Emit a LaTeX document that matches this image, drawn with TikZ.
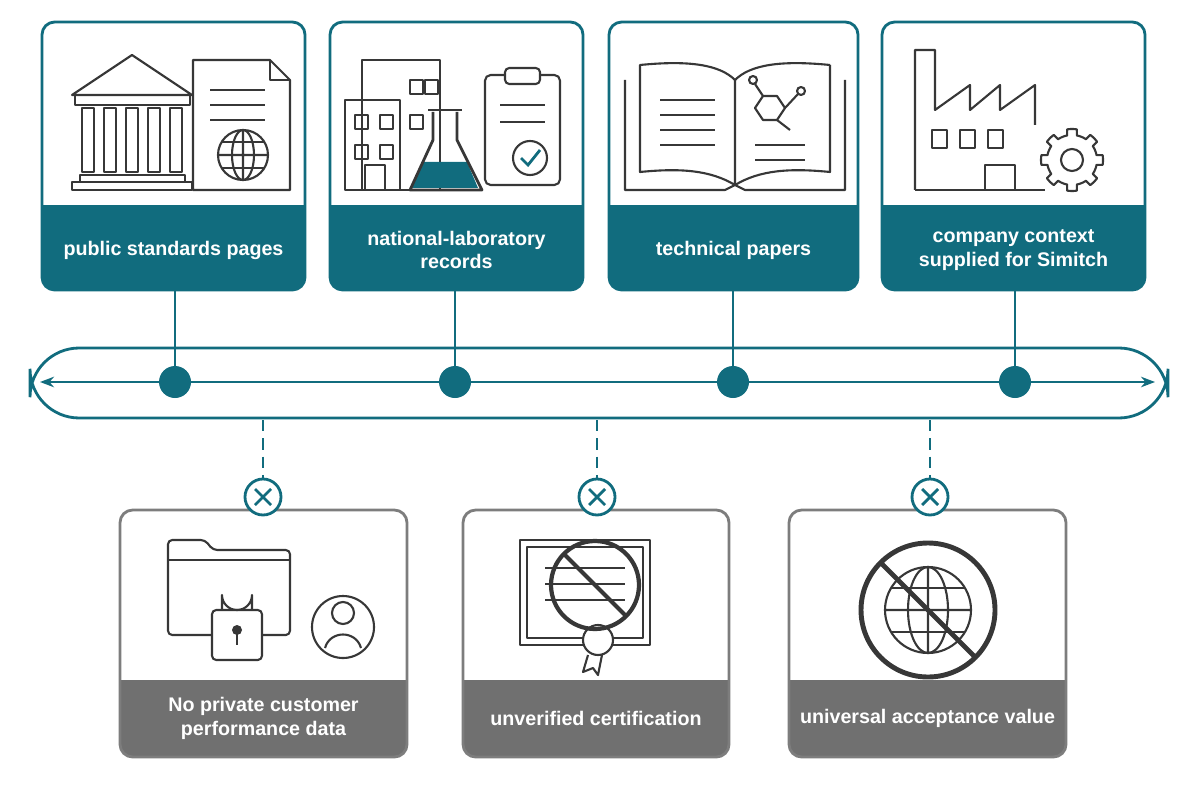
\documentclass[tikz,border=0pt]{standalone}
\usepackage{fontspec}
\setmainfont{Liberation Sans}
\usetikzlibrary{arrows.meta, positioning, calc}
\definecolor{tealc}{RGB}{17,108,126}
\definecolor{grayband}{RGB}{112,112,112}
\definecolor{grayline}{RGB}{125,125,125}
\definecolor{inkc}{RGB}{55,55,55}
\begin{document}
\begin{tikzpicture}[
    x=0.025cm, y=-0.025cm,
    every node/.style={font=\fontsize{14}{17}\selectfont\bfseries}, % label text
    topcard/.style={draw=tealc, line width=2pt, rounded corners=9},
    botcard/.style={draw=grayline, line width=2pt, rounded corners=9},
    bandtxt/.style={text=white, align=center},
    icon/.style={draw=inkc, line width=1.5pt, line join=round},
    stem/.style={tealc, line width=2pt},
    dot/.style={circle, fill=tealc, minimum size=0.8cm, inner sep=0pt},
    xmark/.style={circle, draw=tealc, fill=white, line width=2pt, minimum size=0.9cm, inner sep=0pt},
    rail/.style={draw=tealc, line width=2pt}
]
    \useasboundingbox (0,0) rectangle (1200,800);

    % 1. top cards
    \foreach \xa/\xb/\n/\t in {42/305/1/{public standards pages},
        330/583/2/{national-laboratory\\records},
        609/858/3/{technical papers},
        882/1145/4/{company context\\supplied for Simitch}} {
        \begin{scope}
            \clip[rounded corners=9] (\xa,22) rectangle (\xb,290);
            \fill[tealc] (\xa,205) rectangle (\xb,290);
        \end{scope}
        \draw[topcard] (\xa,22) rectangle (\xb,290);
        \node[bandtxt] (t\n) at ({(\xa+\xb)/2},250) {\t};
    }

    % 2. rail with dots
    \draw[rail, rounded corners=35] (30,348) rectangle (1168,418);
    \coordinate (la) at (40,382);
    \coordinate (ra) at (1155,382);
    \draw[tealc, line width=1.5pt, {Stealth[length=10pt]}-{Stealth[length=10pt]}] (la) -- (ra);
    \foreach \x/\n in {175/1, 455/2, 733/3, 1015/4} {
        \coordinate (b\n) at (\x,290);
        \node[dot] (d\n) at (\x,382) {};
        \draw[stem] (b\n) -- (d\n);
    }

    % 3. bottom cards
    \foreach \xa/\xb/\n/\t in {120/407/1/{No private customer\\performance data},
        463/729/2/{unverified certification},
        789/1066/3/{universal acceptance value}} {
        \begin{scope}
            \clip[rounded corners=9] (\xa,510) rectangle (\xb,757);
            \fill[grayband] (\xa,680) rectangle (\xb,757);
        \end{scope}
        \draw[botcard] (\xa,510) rectangle (\xb,757);
        \node[bandtxt] (g\n) at ({(\xa+\xb)/2},718) {\t};
    }
    \foreach \x/\n in {263/1, 597/2, 930/3} {
        \coordinate (s\n) at (\x,420);
        \node[xmark] (x\n) at (\x,497) {};
        \draw[stem, dashed, dash pattern=on 8pt off 5pt] (s\n) -- (x\n);
        \draw[tealc, line width=2pt] (\x-8,489) -- (\x+8,505) (\x-8,505) -- (\x+8,489);
    }

    % 4. icons, top
    % temple + document + globe
    \draw[icon] (72,95) -- (132,55) -- (192,95) -- cycle;
    \draw[icon] (75,95) rectangle (190,105);
    \foreach \c in {88,110,132,154,176}
        \draw[icon] (\c-6,108) rectangle (\c+6,172);
    \draw[icon] (80,175) rectangle (185,182) (72,182) rectangle (192,190);
    \draw[icon, fill=white] (193,60) -- (270,60) -- (290,80) -- (290,190) -- (193,190) -- cycle;
    \draw[icon] (270,60) -- (270,80) -- (290,80);
    \foreach \y in {90,105,120} \draw[icon] (210,\y) -- (265,\y);
    \draw[icon] (243,155) circle (25) (218,155) -- (268,155) (243,130) -- (243,180);
    \draw[icon] (243,155) ellipse (11 and 25);
    \draw[icon] (222,142) -- (264,142) (222,168) -- (264,168);
    % building + flask + clipboard
    \draw[icon] (362,60) -- (440,60) -- (440,190) -- (362,190) -- cycle;
    \draw[icon] (345,100) rectangle (400,190);
    \foreach \wx/\wy in {355/115,380/115,355/145,380/145,410/80,425/80,410/115}
        \draw[icon] (\wx,\wy) rectangle (\wx+13,\wy+14);
    \draw[icon] (365,165) rectangle (385,190);
    \fill[tealc] (423,162) -- (467,162) -- (478,188) -- (412,188) -- cycle;
    \draw[icon, line width=2pt] (433,112) -- (433,140) -- (410,190) -- (482,190) -- (457,140) -- (457,112);
    \draw[icon] (428,110) -- (462,110);
    \draw[icon, rounded corners=4] (485,75) rectangle (560,185);
    \draw[icon, fill=white, rounded corners=3] (505,68) rectangle (540,84);
    \foreach \y in {105,122} \draw[icon] (500,\y) -- (545,\y);
    \draw[icon] (530,158) circle (17);
    \draw[tealc, line width=2pt] (521,158) -- (528,165) -- (540,150);
    % open book + molecule
    \draw[icon] (640,65) .. controls (690,60) and (720,65) .. (735,80) -- (735,185)
        .. controls (710,170) and (680,168) .. (640,172) -- cycle;
    \draw[icon] (830,65) .. controls (780,60) and (750,65) .. (735,80)
        (735,185) .. controls (760,170) and (790,168) .. (830,172) -- (830,65);
    \draw[icon] (625,80) -- (625,190) -- (725,190) -- (735,185) -- (745,190) -- (845,190) -- (845,80);
    \foreach \y in {100,115,130,145} \draw[icon] (660,\y) -- (715,\y);
    \draw[icon] (755,108) -- (763,96) -- (777,96) -- (785,108) -- (777,120) -- (763,120) -- cycle;
    \draw[icon] (785,108) -- (798,94) (763,96) -- (755,84) (777,120) -- (790,130);
    \draw[icon, fill=white] (801,91) circle (4) (753,80) circle (4);
    \foreach \y in {145,160} \draw[icon] (755,\y) -- (805,\y);
    % factory + gear
    \draw[icon] (915,190) -- (915,50) -- (935,50) -- (935,110) -- (970,85) -- (970,110)
        -- (1000,85) -- (1000,110) -- (1035,85) -- (1035,125);
    \draw[icon] (915,190) -- (1045,190);
    \foreach \wx in {932,960,988} \draw[icon] (\wx,130) rectangle (\wx+15,148);
    \draw[icon] (985,165) rectangle (1015,190);
    \draw[icon, fill=white] plot[domain=0:360, samples=161, smooth cycle]
        ({1072+(25+6*(cos(8*\x)>0))*cos(\x)}, {160+(25+6*(cos(8*\x)>0))*sin(\x)});
    \draw[icon] (1072,160) circle (11);

    % 5. icons, bottom
    \draw[icon, rounded corners=3] (168,635) -- (168,540) -- (205,540) -- (213,550) -- (290,550) -- (290,635) -- cycle;
    \draw[icon] (168,560) -- (290,560);
    \draw[icon, fill=white, rounded corners=3] (212,610) rectangle (262,660);
    \draw[icon] (222,610) -- (222,595) arc (180:0:15) -- (252,610);
    \fill[inkc] (237,630) circle (5);
    \draw[inkc, line width=2pt] (237,630) -- (237,645);
    \draw[icon] (343,627) circle (31) (343,613) circle (11);
    \draw[icon] (325,648) .. controls (330,630) and (356,630) .. (361,648);
    \draw[icon] (520,540) rectangle (650,645);
    \draw[icon] (527,547) rectangle (643,638);
    \foreach \y in {568,584,600} \draw[icon] (545,\y) -- (625,\y);
    \draw[icon] (588,655) -- (583,672) -- (593,668) -- (598,675) -- (602,655);
    \draw[icon, fill=white] (598,640) circle (15);
    \draw[icon, line width=3pt] (595,585) circle (44) (564,554) -- (626,616);
    \draw[icon] (928,610) circle (43) (885,610) -- (971,610) (928,567) -- (928,653);
    \draw[icon] (928,610) ellipse (20 and 43);
    \draw[icon] (891,588) -- (965,588) (891,632) -- (965,632);
    \draw[icon, line width=3.5pt] (928,610) circle (67) (881,563) -- (975,657);
\end{tikzpicture}
\end{document}
